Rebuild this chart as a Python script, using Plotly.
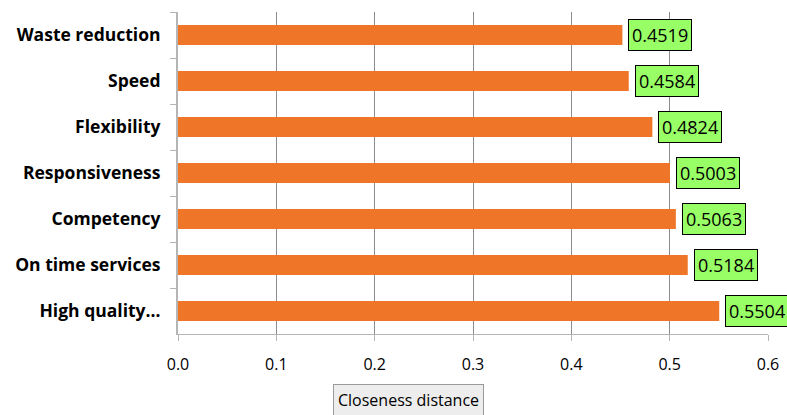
import plotly.graph_objects as go

categories = ["Waste reduction", "Speed", "Flexibility", "Responsiveness",
              "Competency", "On time services", "High quality…"]
values = [0.4519, 0.4584, 0.4824, 0.5003, 0.5063, 0.5184, 0.5504]
label_texts = ["0.4519", "0.4584", "0.4824", "0.5003", "0.5063", "0.5184", "0.5504"]
x_ticks = [0.0, 0.1, 0.2, 0.3, 0.4, 0.5, 0.6]
x_tick_labels = ["0.0", "0.1", "0.2", "0.3", "0.4", "0.5", "0.6"]
axis_title = "Closeness distance"

FONT = "Open Sans, Lato, sans-serif"

fig = go.Figure()
fig.add_trace(go.Bar(
    x=values, y=categories, orientation="h",
    marker=dict(color="#EF7628", line=dict(width=0)),
    hoverinfo="skip",
))

for cat, v, t in zip(categories, values, label_texts):
    fig.add_annotation(
        x=v, y=cat, text=t, showarrow=False, xanchor="left", xshift=6,
        font=dict(family=FONT, size=18, color="#000"),
        bgcolor="#99FF66", bordercolor="#000000", borderwidth=1, borderpad=3,
    )

fig.add_annotation(
    x=0.39, y=0, xref="paper", yref="paper", yshift=-66, text=axis_title,
    showarrow=False, xanchor="center", yanchor="middle",
    font=dict(family=FONT, size=16, color="#000"),
    bgcolor="#EDEDED", bordercolor="#9A9A9A", borderwidth=1, borderpad=4,
)

fig.update_layout(
    width=787, height=415,
    margin=dict(l=178, r=19, t=12, b=81, autoexpand=False),
    paper_bgcolor="white", plot_bgcolor="white",
    bargap=0.56, showlegend=False,
    xaxis=dict(
        range=[0, 0.6], tickvals=x_ticks, ticktext=x_tick_labels,
        showgrid=True, gridcolor="#8C8C8C", gridwidth=1,
        showline=True, linecolor="#B5B5B5", linewidth=1,
        ticks="outside", ticklen=6, tickcolor="#B5B5B5",
        ticklabelstandoff=10, automargin=False,
        tickfont=dict(family=FONT, size=16, color="#000"),
        zeroline=False,
    ),
    yaxis=dict(
        autorange="reversed", type="category",
        showline=True, linecolor="#B5B5B5", linewidth=2,
        ticks="outside", ticklen=6, tickcolor="#B5B5B5", tickson="boundaries",
        ticklabelstandoff=12, automargin=False,
        tickfont=dict(family=FONT, size=17.5, color="#000", weight="bold"),
        showgrid=False,
    ),
)

fig.write_html("out.html", config={"displayModeBar": False},
               post_script="document.body.style.margin='0';")
